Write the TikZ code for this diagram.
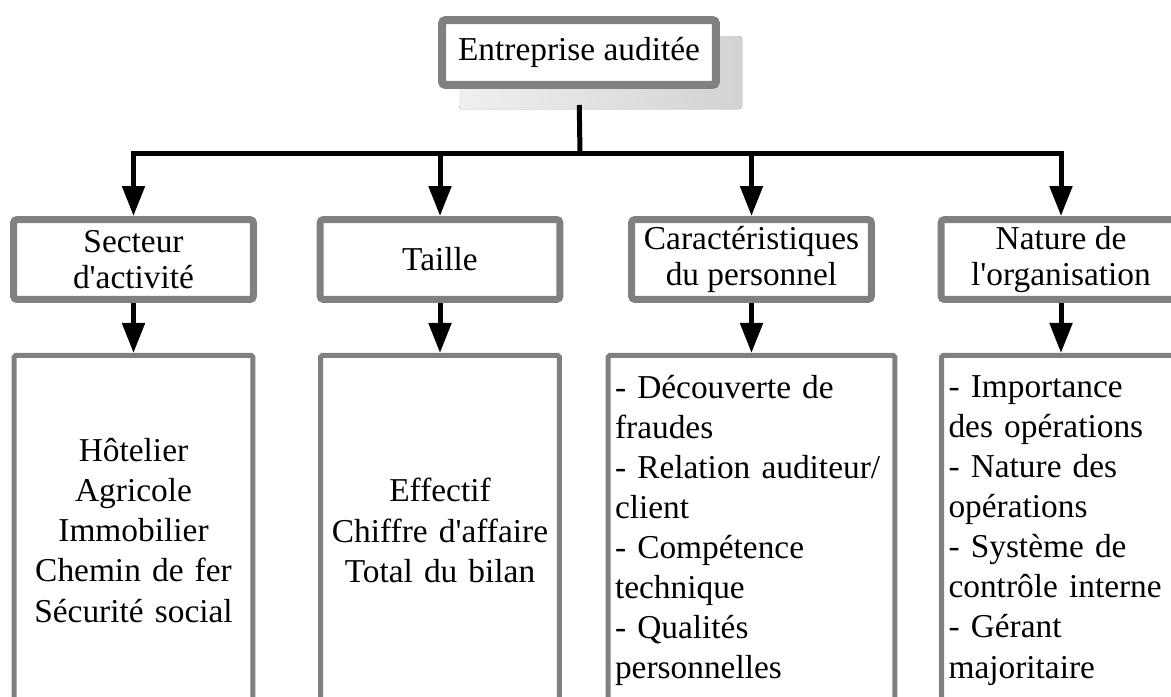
\documentclass[tikz,border=0pt]{standalone}
\usepackage{fontspec}
\setmainfont{Liberation Serif}[Ligatures=TeXOff]
\usetikzlibrary{arrows.meta,positioning}

\begin{document}
\begin{tikzpicture}[x=0.02cm,y=-0.02cm,
  font=\fontsize{19pt}{20.4pt}\selectfont,
  headbox/.style={draw=gray,line width=0.16cm,fill=white,rounded corners=2pt,
    minimum width=5.48cm,minimum height=1.3cm,inner sep=0pt},
  catbox/.style={draw=gray,line width=0.14cm,fill=white,rounded corners=2pt,
    minimum width=4.8cm,minimum height=1.6cm,inner sep=0pt,align=center},
  listbox/.style={draw=gray,line width=0.1cm,fill=white,rounded corners=1pt,
    minimum height=7cm,inner xsep=0.14cm,inner ysep=0pt,text width=4.5cm,
    font=\fontsize{19pt}{22.8pt}\selectfont},
  link/.style={line width=0.1cm},
  arr/.style={line width=0.1cm,-{Triangle[length=0.6cm,width=0.44cm]}}]
  \useasboundingbox (0,0) rectangle (1171,697);
  \clip (0,0) rectangle (1171,697);

  % head box with its shadow
  \fill[left color=gray!12,right color=gray!35,rounded corners=2pt] (459,36) rectangle (742,109);
  \node[headbox] (firm) at (579,52.5) {Entreprise auditée};

  % criteria
  \node[catbox] (sector) at (133.5,259.5) {Secteur\\d'activité};
  \node[catbox] (size) at (440,259.5) {Taille};
  \node[catbox] (staff) at (751.5,259.5) {Caractéristiques\\du personnel};
  \node[catbox] (org) at (1061,259.5) {Nature de\\l'organisation};

  % details
  \node[listbox,align=center,below=1cm of sector] (sectorlist)
    {Hôtelier\\Agricole\\Immobilier\\Chemin de fer\\Sécurité social};
  \node[listbox,align=center,below=1cm of size] (sizelist)
    {Effectif\\Chiffre d'affaire\\Total du bilan};
  \node[listbox,align=left,text width=5.46cm,below=1cm of staff] (stafflist)
    {- Découverte de\\fraudes\\- Relation auditeur/\\client\\- Compétence\\technique\\- Qualités\\personnelles};
  \node[listbox,align=left,below=1cm of org] (orglist)
    {- Importance\\des opérations\\- Nature des\\opérations\\- Système de\\contrôle interne\\- Gérant\\majoritaire};

  % connectors
  \coordinate (hub) at (580,153);
  \draw[link,shorten <=0.32cm] (firm.south) -- (hub);
  \draw[link,line cap=rect] (sector.north |- hub) -- (org.north |- hub);
  \foreach \b in {sector,size,staff,org}
    \draw[arr] (\b.north |- hub) -- (\b.north);
  \foreach \b in {sector,size,staff,org}
    \draw[arr] (\b) -- (\b list);
\end{tikzpicture}
\end{document}
